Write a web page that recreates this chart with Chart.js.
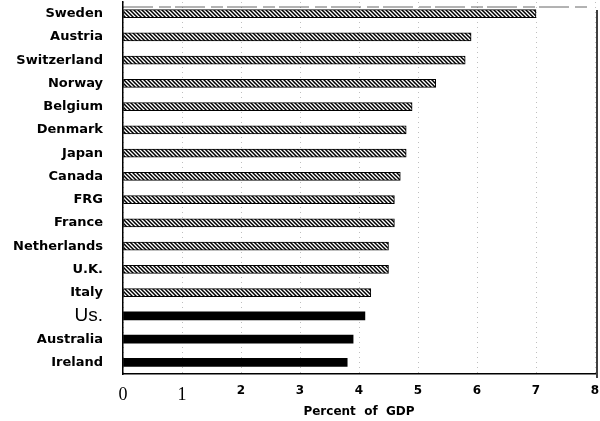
<!DOCTYPE html>
<html>
<head>
<meta charset="utf-8">
<script src="https://cdn.jsdelivr.net/npm/chart.js@4/dist/chart.umd.min.js"></script>
<style>
  html, body { margin: 0; padding: 0; background: #fff; }
  #wrap { width: 600px; height: 421px; }
</style>
</head>
<body>
<div id="wrap"><canvas id="chart" width="600" height="421"></canvas></div>
<script>
(function () {
    'use strict';

    var countries = ['Sweden', 'Austria', 'Switzerland', 'Norway', 'Belgium', 'Denmark', 'Japan', 'Canada',
        'FRG', 'France', 'Netherlands', 'U.K.', 'Italy', 'Us.', 'Australia', 'Ireland'];
    var percentGdp = [7.0, 5.9, 5.8, 5.3, 4.9, 4.8, 4.8, 4.7, 4.6, 4.6, 4.5, 4.5, 4.2, 4.1, 3.9, 3.8];
    var solidGroup = ['Us.', 'Australia', 'Ireland'];
    var xTicks = ['0', '1', '2', '3', '4', '5', '6', '7', '8'];

    var SANS = "'DejaVu Sans', Arial, sans-serif";
    var PLAIN = "'Liberation Sans', Arial, sans-serif";
    var SERIF = "'Liberation Serif', 'Times New Roman', serif";

    function hatch() {
        var c = document.createElement('canvas');
        c.width = 4; c.height = 4;
        var g = c.getContext('2d');
        g.fillStyle = '#fff';
        g.fillRect(0, 0, 4, 4);
        g.strokeStyle = '#000';
        g.lineWidth = 1.5;
        g.beginPath();
        g.moveTo(-1, -1); g.lineTo(5, 5);
        g.moveTo(-1, 3); g.lineTo(1, 5);
        g.moveTo(3, -1); g.lineTo(5, 1);
        g.stroke();
        return g.createPattern(c, 'repeat');
    }
    var hatchFill = hatch();

    function isSolid(i) { return solidGroup.indexOf(countries[i]) !== -1; }

    var frameLine = {
        id: 'frameLine',
        afterDraw: function (chart) {
            var a = chart.chartArea, ctx = chart.ctx;
            ctx.save();
            ctx.strokeStyle = '#000';
            ctx.lineWidth = 1.5;
            ctx.beginPath();
            ctx.moveTo(a.right + 2, a.top + 8);
            ctx.lineTo(a.right + 2, a.bottom + 4);
            ctx.stroke();
            ctx.strokeStyle = 'rgba(0,0,0,0.6)';
            ctx.lineWidth = 1;
            ctx.setLineDash([30, 6, 12, 4]);
            ctx.beginPath();
            ctx.moveTo(a.left, a.top + 5);
            ctx.lineTo(a.right - 5, a.top + 5);
            ctx.stroke();
            ctx.restore();
        }
    };

    new Chart(document.getElementById('chart'), {
        type: 'bar',
        data: {
            labels: countries,
            datasets: [{
                data: percentGdp,
                backgroundColor: function (c) { return isSolid(c.dataIndex) ? '#000' : hatchFill; },
                borderColor: '#000',
                borderWidth: function (c) { return isSolid(c.dataIndex) ? 0 : 1; },
                borderSkipped: false,
                barThickness: 8
            }]
        },
        options: {
            indexAxis: 'y',
            responsive: false,
            animation: false,
            layout: { padding: { top: 2, right: 5, left: 0, bottom: 0 } },
            plugins: { legend: { display: false }, tooltip: { enabled: false } },
            scales: {
                x: {
                    min: 0,
                    max: 8,
                    afterFit: function (s) {
                        s.height = 47;
                        s.paddingLeft = 0;
                        s.paddingRight = 0;
                    },
                    afterBuildTicks: function (s) {
                        s.ticks = xTicks.map(function (t) { return { value: Number(t) }; });
                    },
                    border: { display: true, color: '#000', width: 1.5, dash: [1, 4] },
                    grid: { color: 'rgba(0,0,0,0.25)', drawTicks: false },
                    ticks: {
                        padding: 10,
                        color: '#000',
                        autoSkip: false,
                        maxRotation: 0,
                        callback: function (v, i) { return xTicks[i]; },
                        font: function (c) {
                            return c.index < 2
                                ? { family: SERIF, size: 18, weight: 'normal' }
                                : { family: SANS, size: 12, weight: 'bold' };
                        }
                    },
                    title: {
                        display: true,
                        text: 'Percent  of  GDP',
                        color: '#000',
                        font: { family: SANS, size: 12, weight: 'bold' },
                        padding: { top: 0, bottom: 2 }
                    }
                },
                y: {
                    afterFit: function (s) {
                        s.width = 123;
                        s.paddingTop = 0;
                        s.paddingBottom = 0;
                    },
                    border: { display: true, color: '#000', width: 1.5 },
                    grid: { display: false, drawTicks: false },
                    ticks: {
                        padding: 20,
                        color: '#000',
                        autoSkip: false,
                        font: function (c) {
                            return countries[c.index] === 'Us.'
                                ? { family: PLAIN, size: 19, weight: 'normal' }
                                : { family: SANS, size: 13, weight: 'bold' };
                        }
                    }
                }
            }
        },
        plugins: [frameLine]
    });
}());
</script>
</body>
</html>
